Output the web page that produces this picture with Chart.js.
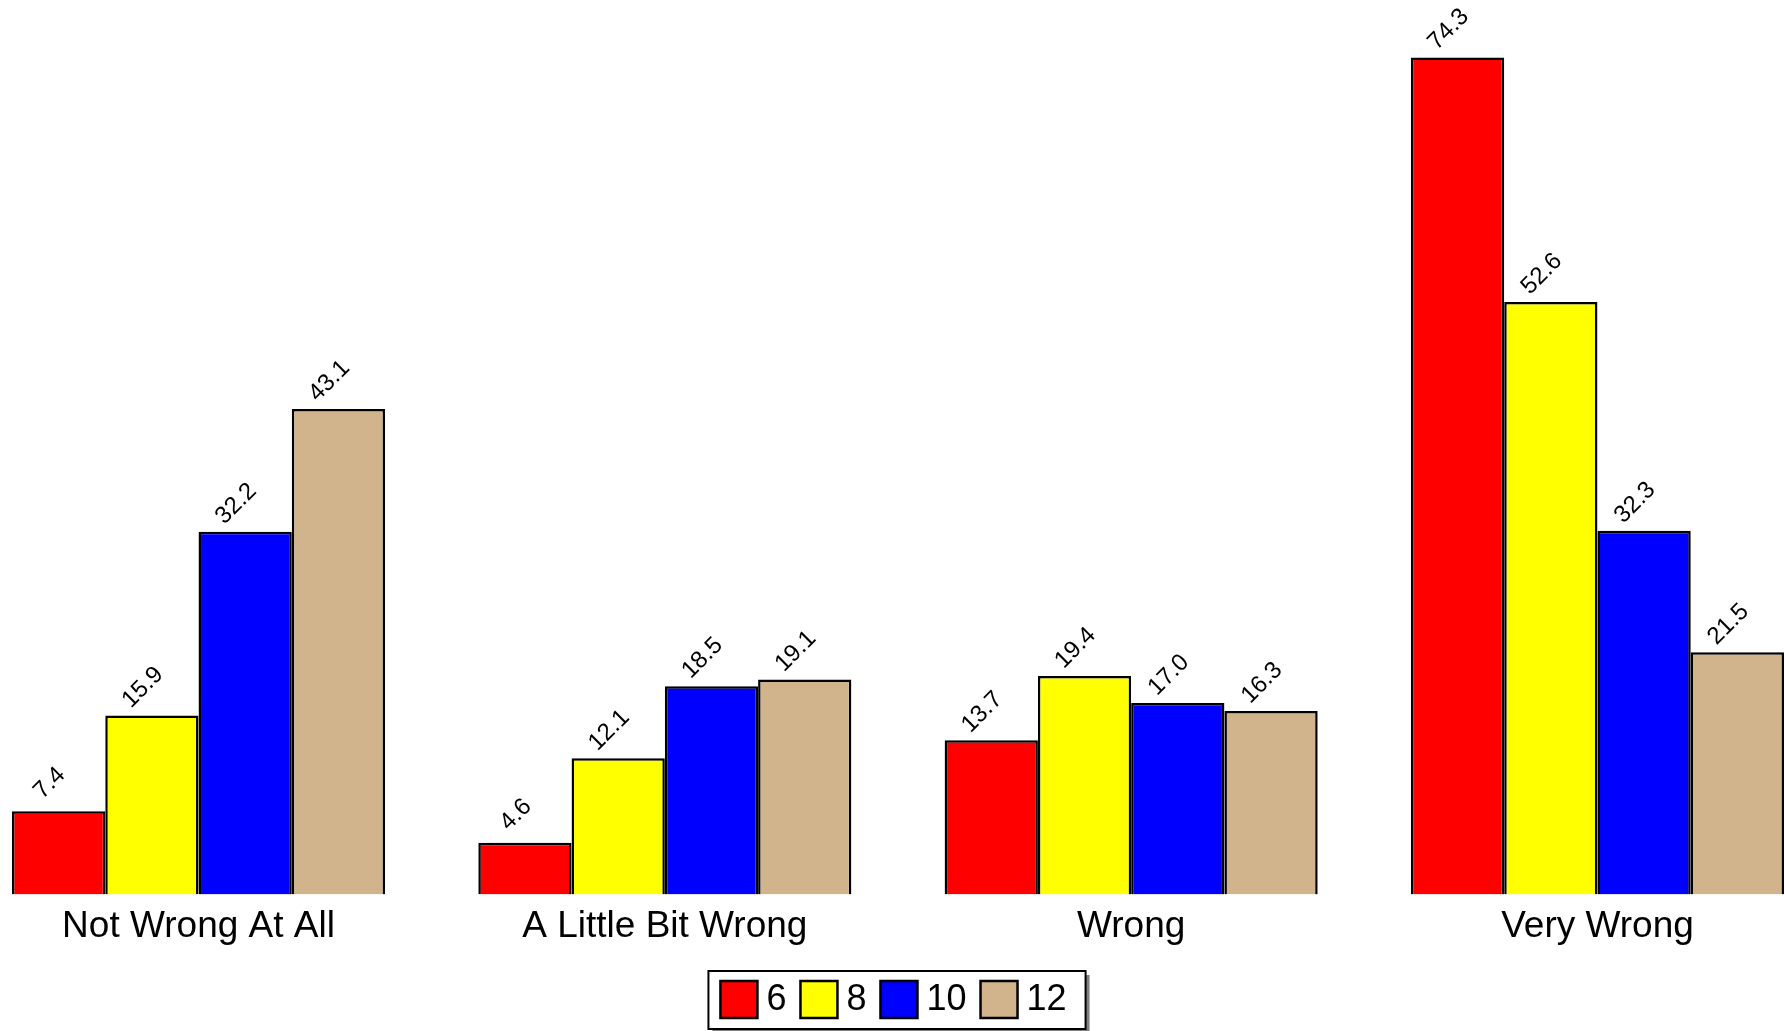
<!DOCTYPE html>
<html>
<head>
<meta charset="utf-8">
<script src="https://cdn.jsdelivr.net/npm/chart.js@4"></script>
<style>
  html, body { margin: 0; padding: 0; background: #fff; }
  #wrap { width: 1785px; height: 1031px; }
</style>
</head>
<body>
<div id="wrap"><canvas id="chart"></canvas></div>
<script>
const categories = ['Not Wrong At All', 'A Little Bit Wrong', 'Wrong', 'Very Wrong'];
const seriesNames = ['6', '8', '10', '12'];
const values6 = [7.4, 4.6, 13.7, 74.3];
const values8 = [15.9, 12.1, 19.4, 52.6];
const values10 = [32.2, 18.5, 17.0, 32.3];
const values12 = [43.1, 19.1, 16.3, 21.5];
const colors = ['#ff0000', '#ffff00', '#0000ff', '#d2b48c'];

const FONT = "'Liberation Sans', Arial, sans-serif";
const LEGEND_BOX = 37;

// turn a list of values into points on the numeric x axis
function toPoints(values) {
    return values.map((v, i) => ({ x: i, y: v }));
}

const allSeries = [values6, values8, values10, values12];

// rotated value labels above every bar
const valueLabels = {
    id: 'valueLabels',
    afterDatasetsDraw(chart) {
        const ctx = chart.ctx;
        ctx.save();
        ctx.font = '24px ' + FONT;
        ctx.fillStyle = '#000';
        ctx.textAlign = 'center';
        ctx.textBaseline = 'middle';
        chart.data.datasets.forEach((ds, di) => {
            chart.getDatasetMeta(di).data.forEach((bar, i) => {
                ctx.save();
                ctx.translate(bar.x - 9, bar.y - 28);
                ctx.rotate(-Math.PI / 4);
                ctx.fillText(ds.data[i].y.toFixed(1), 0, 0);
                ctx.restore();
            });
        });
        ctx.restore();
    }
};

// framed legend with a drop shadow, text set closer to the swatches
const legendFrame = {
    id: 'legendFrame',
    beforeDraw(chart) {
        const boxes = chart.legend.legendHitBoxes;
        if (!boxes || !boxes.length) return;
        const left = Math.min(...boxes.map(b => b.left)) - 12;
        const right = Math.max(...boxes.map(b => b.left + b.width)) + 10;
        const top = Math.min(...boxes.map(b => b.top)) - 10;
        const bottom = Math.max(...boxes.map(b => b.top + b.height)) + 11;
        const ctx = chart.ctx;
        ctx.save();
        ctx.fillStyle = '#808080';
        ctx.fillRect(left + 4, top + 4, right - left, bottom - top);
        ctx.fillStyle = '#fff';
        ctx.fillRect(left, top, right - left, bottom - top);
        ctx.strokeStyle = '#000';
        ctx.lineWidth = 2;
        ctx.strokeRect(left, top, right - left, bottom - top);
        ctx.restore();
    },
    afterDraw(chart) {
        const boxes = chart.legend.legendHitBoxes;
        const ctx = chart.ctx;
        ctx.save();
        ctx.font = '36px ' + FONT;
        ctx.fillStyle = '#000';
        ctx.textAlign = 'left';
        ctx.textBaseline = 'middle';
        boxes.forEach((b, i) => {
            ctx.fillText(seriesNames[i], b.left + LEGEND_BOX + 9, b.top + b.height / 2 + 1);
        });
        ctx.restore();
    }
};

new Chart(document.getElementById('chart'), {
    type: 'bar',
    data: {
        datasets: allSeries.map((vals, i) => ({
            label: seriesNames[i],
            data: toPoints(vals),
            backgroundColor: colors[i],
            borderColor: '#000',
            borderWidth: 2.5,
            categoryPercentage: 0.8,
            barPercentage: 1.0
        }))
    },
    options: {
        responsive: true,
        maintainAspectRatio: false,
        animation: false,
        layout: { padding: { left: 12, right: 1, top: 0, bottom: 3 } },
        scales: {
            x: {
                type: 'linear',
                offset: false,
                min: -0.4,
                max: 3.4,
                grid: { display: false, offset: false },
                border: { display: false },
                afterBuildTicks: (scale) => {
                    scale.ticks = categories.map((c, i) => ({ value: i }));
                },
                afterFit: (scale) => {
                    scale.height += 25;
                },
                ticks: {
                    autoSkip: false,
                    maxRotation: 0,
                    padding: 2,
                    color: '#000',
                    font: { family: FONT, size: 37 },
                    callback: (value) => categories[value]
                }
            },
            y: {
                display: false,
                min: 0,
                max: 79.4
            }
        },
        plugins: {
            legend: {
                position: 'bottom',
                labels: {
                    color: 'rgba(0,0,0,0)',
                    boxWidth: LEGEND_BOX,
                    boxHeight: LEGEND_BOX,
                    padding: 5,
                    font: { family: FONT, size: 36 }
                }
            },
            tooltip: { enabled: false }
        }
    },
    plugins: [legendFrame, valueLabels]
});
</script>
</body>
</html>
